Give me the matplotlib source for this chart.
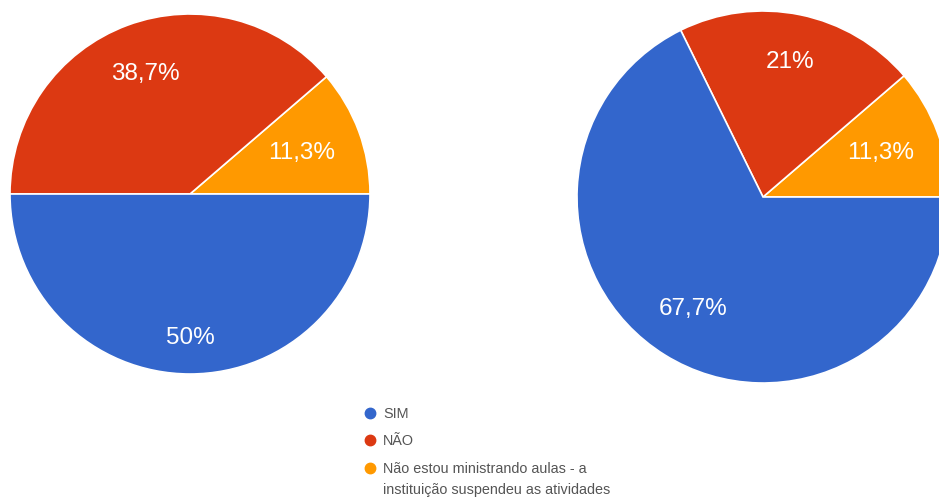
import numpy as np
import matplotlib.pyplot as plt

plt.rcParams['font.family'] = ['Liberation Sans', 'DejaVu Sans']

# answers, in legend order
categories = ['SIM', 'NÃO', 'Não estou ministrando aulas - a\ninstituição suspendeu as atividades']
colors = ['#3366cc', '#dc3912', '#ff9900']

left_values = [50.0, 38.7, 11.3]
right_values = [67.7, 21.0, 11.3]


def pct_label(p):
    s = f'{p:.1f}'
    if s.endswith('.0'):
        s = s[:-2]
    return s.replace('.', ',') + '%'


def draw_pie(ax, values, center, radius, label_dist):
    # wedges go counter-clockwise from 3 o'clock, last answer first
    vals = values[::-1]
    cols = colors[::-1]
    wedges, texts, autotexts = ax.pie(
        vals, colors=cols, startangle=0, counterclock=True,
        center=center, radius=radius,
        wedgeprops=dict(edgecolor='white', linewidth=1.2),
        autopct=pct_label, pctdistance=0.7,
        textprops=dict(color='white', fontsize=17.5))
    # nudge the percentages in or out along their wedge
    for w, t, d in zip(wedges, autotexts, label_dist[::-1]):
        ang = np.deg2rad((w.theta1 + w.theta2) / 2)
        t.set_position((center[0] + d * radius * np.cos(ang),
                        center[1] + d * radius * np.sin(ang)))
    return wedges


W, H = 939, 501
fig = plt.figure(figsize=(W / 100, H / 100), dpi=100)
ax = fig.add_axes([0, 0, 1, 1])

draw_pie(ax, left_values, (190, H - 194), 180, [0.8, 0.71, 0.66])
draw_pie(ax, right_values, (763, H - 197), 186, [0.71, 0.74, 0.675])

ax.set_xlim(0, W)
ax.set_ylim(0, H)
ax.set_aspect('equal')
ax.axis('off')

# legend: dot + label, the long label wraps under itself
legend_x = 370
legend_rows = [413, 440, 468]
for cat, col, row in zip(categories, colors, legend_rows):
    ax.plot(legend_x, H - row, marker='o', markersize=7.5, color=col,
            linestyle='')
    ax.text(legend_x + 13, H - row + 6, cat, fontsize=10.4,
            color='#555555', va='top', ha='left', linespacing=1.65)

fig.savefig('out.png', dpi=100)
